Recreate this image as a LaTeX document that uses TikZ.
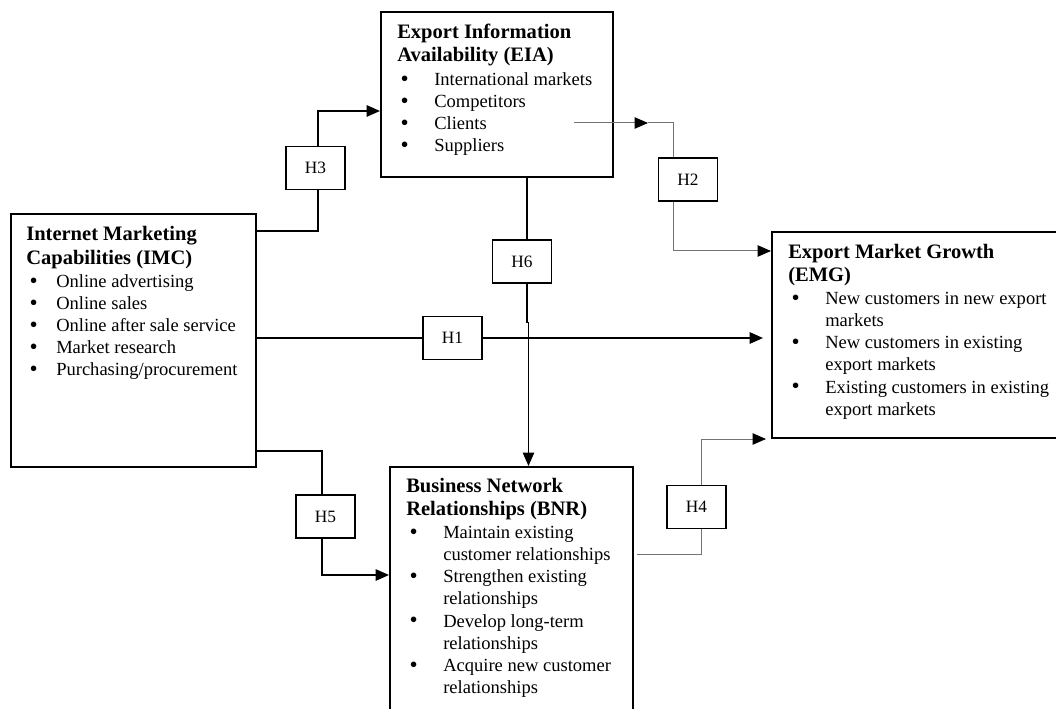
\documentclass[tikz,border=0pt]{standalone}
\usepackage{fontspec}
\setmainfont{Liberation Serif}
\usetikzlibrary{arrows.meta}

\newcommand{\titlefont}{\fontsize{15.4}{17.25}\selectfont\bfseries}
\newcommand{\itemfont}{\fontsize{13.9}{16.6}\selectfont}
\newcommand{\bigdot}{\smash{\raisebox{-0.6pt}{\scalebox{1.25}{\textbullet}}}}
\newcommand{\bitem}[2][27.75pt]{\par\hangindent=#1\hangafter=1\noindent\makebox[#1][l]{\hspace{2.5pt}\bigdot}#2}

\begin{document}
\begin{tikzpicture}[x=0.75pt,y=-0.75pt,
    bigbox/.style={draw,line width=1.5pt,inner sep=0pt},
    boxtext/.style={anchor=base west,inner sep=0pt},
    hbox/.style={draw,line width=1.1pt,minimum width=44.5pt,minimum height=32pt,inner sep=0pt,font=\fontsize{13}{15}\selectfont},
    link/.style={line width=1.25pt},
    weak/.style={line width=0.75pt,draw=black!55},
    arrowend/.style={-{Triangle[length=10pt,width=8.5pt,color=black]}}]
    \useasboundingbox (0,0) rectangle (1056,709);
    \clip (0,0) rectangle (1056,709);
    \fill[white] (0,0) rectangle (1056,709);

    % Constructs
    \node[bigbox,minimum width=174pt,minimum height=123.75pt] (EIA) at (497,94.5) {};
    \node[bigbox,minimum width=183.75pt,minimum height=189.75pt] (IMC) at (133.5,340.5) {};
    \node[bigbox,minimum width=227.25pt,minimum height=154.5pt] (EMG) at (923.5,335) {};
    \node[bigbox,minimum width=182.25pt,minimum height=204.75pt] (BNR) at (511.5,603.5) {};

    \node[boxtext] (EIAtext) at ([xshift=12.75pt,yshift=-21pt]EIA.north west) {\parbox[t]{300pt}{%
        {\titlefont Export Information\\Availability (EIA)\par}\vspace{1pt}\itemfont
        \bitem{International markets}\bitem{Competitors}\bitem{Clients}\bitem{Suppliers}}};
    \node[boxtext] (IMCtext) at ([xshift=12pt,yshift=-21pt]IMC.north west) {\parbox[t]{300pt}{%
        {\titlefont Internet Marketing\\Capabilities (IMC)\par}\vspace{1pt}\itemfont
        \bitem[22.5pt]{Online advertising}\bitem[22.5pt]{Online sales}
        \bitem[22.5pt]{Online after sale service}\bitem[22.5pt]{Market research}
        \bitem[22.5pt]{Purchasing/procurement}}};
    \node[boxtext] (EMGtext) at ([xshift=12.75pt,yshift=-20.25pt]EMG.north west) {\parbox[t]{300pt}{%
        {\titlefont Export Market Growth\\(EMG)\par}\vspace{1pt}\itemfont
        \bitem{New customers in new export\\markets}
        \bitem{New customers in existing\\export markets}
        \bitem{Existing customers in existing\\export markets}}};
    \node[boxtext] (BNRtext) at ([xshift=12.75pt,yshift=-19.5pt]BNR.north west) {\parbox[t]{300pt}{%
        {\titlefont Business Network\\Relationships (BNR)\par}\vspace{1pt}\itemfont
        \bitem{Maintain existing\\customer relationships}
        \bitem{Strengthen existing\\relationships}
        \bitem{Develop long-term\\relationships}
        \bitem{Acquire new customer\\relationships}}};

    % Hypotheses
    \node[hbox] (H1) at (452.5,338) {H1};
    \node[hbox] (H2) at (688,179.5) {H2};
    \node[hbox] (H3) at (315.5,168) {H3};
    \node[hbox] (H4) at (696.5,507) {H4};
    \node[hbox] (H5) at (325.5,516.5) {H5};
    \node[hbox] (H6) at (522,261.5) {H6};

    % H3: IMC -> EIA
    \draw[link] ([yshift=-13.5pt]IMC.north east) -| ([xshift=1.9pt]H3.south);
    \draw[link,arrowend] ([xshift=1.9pt]H3.north) |- ([yshift=-75pt]EIA.north west);

    % H1: IMC -> EMG
    \draw[link] (IMC.east |- H1.west) -- (H1.west);
    \draw[link,arrowend,shorten >=6pt] (H1.east) -- (EMG.west |- H1.east);

    % H6: EIA -> BNR
    \coordinate (h6top) at ([xshift=3.75pt]H6.north);
    \draw[link] (EIA.south -| h6top) -- (h6top);
    \draw[line width=1pt] ([xshift=3.75pt]H6.south) -- ++(0,39) -- ++(1.5,0) coordinate (h6jog);
    \draw[line width=1pt,arrowend] (h6jog) -- (h6jog |- BNR.north);

    % H2: EIA -> EMG
    \coordinate (h2from) at (574,123);
    \coordinate (h2tip) at (648,123);
    \draw[weak,arrowend] (h2from) -- (h2tip);
    \draw[weak] (h2tip) -| ([xshift=-11.25pt]H2.north);
    \draw[weak,arrowend] ([xshift=-11.25pt]H2.south) |- ([yshift=-15pt]EMG.north west);

    % H5: IMC -> BNR
    \draw[link] ([yshift=12.75pt]IMC.south east) -| ([xshift=-2.6pt]H5.north);
    \draw[link,arrowend] ([xshift=-2.6pt]H5.south) |- ([yshift=-81.75pt]BNR.north west);

    % H4: BNR -> EMG
    \draw[weak] ([xshift=2.25pt,yshift=-66pt]BNR.north east) -| ([xshift=4.1pt]H4.south);
    \draw[weak,arrowend,shorten >=3.75pt] ([xshift=4.1pt]H4.north) |- (EMG.south west);
\end{tikzpicture}
\end{document}
